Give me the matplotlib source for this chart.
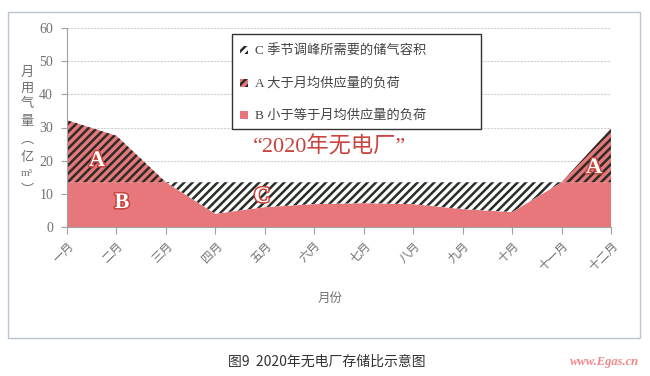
import matplotlib
matplotlib.use("Agg")
import matplotlib.pyplot as plt
import numpy as np
from matplotlib.patches import Rectangle
import matplotlib.patheffects as pe

# ---------------- data ----------------
months = ['一月', '二月', '三月', '四月', '五月', '六月',
          '七月', '八月', '九月', '十月', '十一月', '十二月']
demand = [32.2, 27.5, 13.5, 4.0, 6.0, 6.9, 7.2, 6.9, 5.4, 4.5, 13.5, 29.7]
avg_supply = 13.5
yticks = [0, 10, 20, 30, 40, 50, 60]
legend_labels = ['C 季节调峰所需要的储气容积',
                 'A 大于月均供应量的负荷',
                 'B 小于等于月均供应量的负荷']

RED = '#e8777b'
HATCH = '#2a2e28'
DARKRED = '#c8443e'
GRAY = '#707070'

plt.rcParams['hatch.linewidth'] = 1.8
W, H = 650, 376
fig = plt.figure(figsize=(W / 100, H / 100), dpi=100)

def fx(x):
    return x / W

def fy(y):
    return 1 - y / H

SERIF = ['Liberation Serif', 'Noto Sans CJK SC']
CJK = ['Noto Sans CJK SC', 'DejaVu Sans']

# outer frame
fig.patches.append(Rectangle((fx(8), fy(338)), fx(640) - fx(8), fy(12) - fy(338),
                             transform=fig.transFigure, fill=False,
                             edgecolor='#b9c5d3', lw=1.0))

ax = fig.add_axes([fx(67), fy(227), fx(611) - fx(67), fy(28) - fy(227)])

x = np.arange(len(months))
D = np.array(demand)
B = np.minimum(D, avg_supply)

# B area
ax.fill_between(x, 0, B, facecolor=RED, edgecolor='none', lw=0, zorder=2)
# A area (red background + hatch)
ax.fill_between(x, avg_supply, D, where=D >= avg_supply, interpolate=True,
                facecolor=RED, edgecolor='none', lw=0, zorder=2)
ax.fill_between(x, avg_supply, D, where=D >= avg_supply, interpolate=True,
                facecolor='none', edgecolor=HATCH, hatch='////', lw=0, zorder=3)
# C area (white background + hatch)
ax.fill_between(x, D, avg_supply, where=D <= avg_supply, interpolate=True,
                facecolor='white', edgecolor=HATCH, hatch='////', lw=0, zorder=2)

ax.set_xlim(0, len(months) - 1)
ax.set_ylim(0, 60)
ax.set_yticks(yticks)
ax.set_yticklabels([str(v) for v in yticks], family=SERIF, fontsize=10, color=GRAY)
ax.set_xticks(x)
ax.set_xticklabels(months, rotation=45, ha='right', va='top',
                   rotation_mode='anchor', family=CJK, fontsize=8.5, color=GRAY)
ax.tick_params(axis='x', length=5, color='#a0a0a0', pad=4)
ax.tick_params(axis='y', length=4, color='#a0a0a0', pad=6)
ax.yaxis.grid(True, color='#cfcfcf', lw=0.8, linestyle=(0, (2, 1)))
ax.set_axisbelow(True)
for s in ['top', 'right']:
    ax.spines[s].set_visible(False)
for s in ['left', 'bottom']:
    ax.spines[s].set_color('#a0a0a0')
    ax.spines[s].set_linewidth(0.8)
    ax.spines[s].set_zorder(4)

# area labels
def area_label(xp, yp, s):
    fig.text(fx(xp), fy(yp), s, family=['Liberation Serif'], fontsize=16,
             fontweight='bold', color='white', ha='center', va='center',
             path_effects=[pe.withStroke(linewidth=2.2, foreground=DARKRED)],
             zorder=10)

area_label(97, 161, 'A')
area_label(122, 203, 'B')
area_label(262, 197, 'C')
area_label(594, 168, 'A')

# red title in plot
fig.text(fx(330), fy(147), '“2020年无电厂”', family=SERIF, fontsize=16,
         color=DARKRED, ha='center', va='center')

# legend (manual)
fig.patches.append(Rectangle((fx(232), fy(129)), fx(481) - fx(232), fy(34) - fy(129),
                             transform=fig.transFigure, facecolor='white',
                             edgecolor='#333333', lw=1.0, zorder=5))
ys = [50, 83, 115]
styles = [dict(facecolor='white', hatch='////', edgecolor=HATCH),
          dict(facecolor=RED, hatch='////', edgecolor=HATCH),
          dict(facecolor=RED, edgecolor='none')]
for yy, lab, st in zip(ys, legend_labels, styles):
    fig.patches.append(Rectangle((fx(240), fy(yy + 4)), fx(248) - fx(240), fy(yy - 4) - fy(yy + 4),
                                 transform=fig.transFigure, lw=0, zorder=6, **st))
    fig.text(fx(255), fy(yy), lab, family=SERIF, fontsize=9.5, color='#444444',
             ha='left', va='center', zorder=7)

# y axis label (vertical stacked)
ychars = ['月', '用', '气', '量', '︵', '亿', 'm³', '︶']
ypos = [72, 88, 104, 121, 139, 157, 173, 191]
for c, yy in zip(ychars, ypos):
    fig.text(fx(27), fy(yy), c, family=SERIF if c == 'm³' else CJK,
             fontsize=9.5 if c != 'm³' else 8, color=GRAY, ha='center', va='center')

# x axis title
fig.text(fx(330), fy(298), '月份', family=CJK, fontsize=9, color=GRAY,
         ha='center', va='center')

# caption
fig.text(fx(327), fy(362), '图9  2020年无电厂存储比示意图', family=CJK, fontsize=10,
         color='#333333', ha='center', va='center')
fig.text(fx(605), fy(362), 'www.Egas.cn', family=['Liberation Serif'], fontsize=9,
         style='italic', fontweight='bold', color='#f0888a', ha='center', va='center')

fig.savefig('out.png', dpi=100)
